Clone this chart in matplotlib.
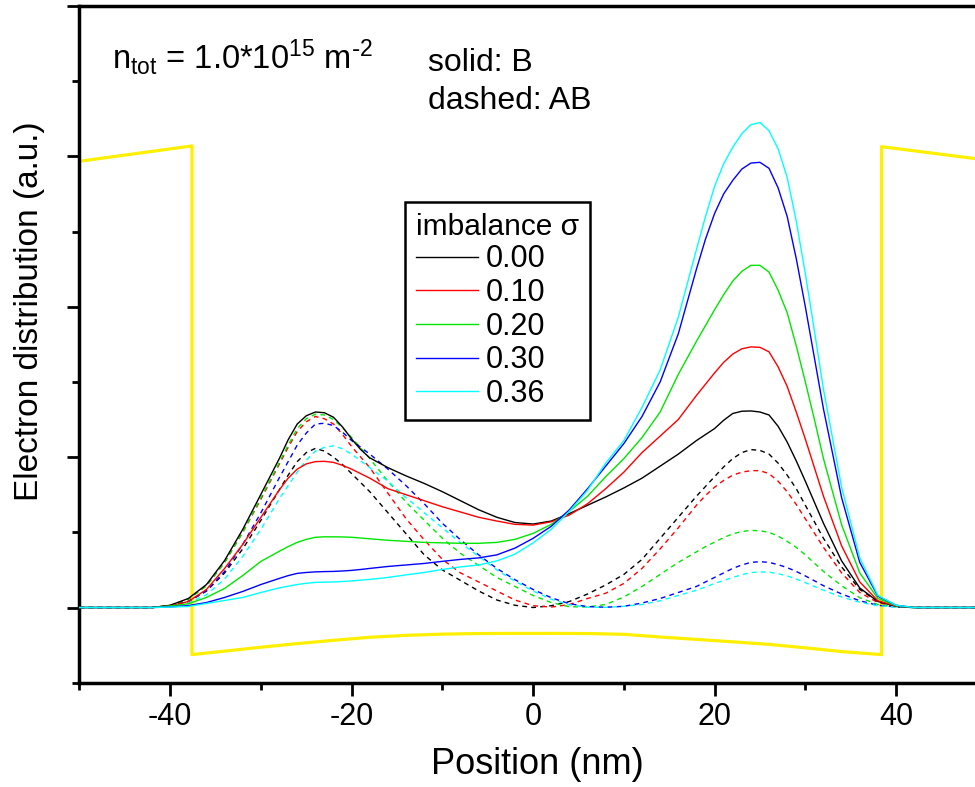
import matplotlib
matplotlib.use("Agg")
import matplotlib.pyplot as plt
from matplotlib.ticker import MultipleLocator

plt.rcParams['font.family'] = ['Liberation Sans', 'DejaVu Sans']
plt.rcParams['mathtext.default'] = 'regular'
plt.rcParams['axes.unicode_minus'] = False

# position grid (nm)
pos = [-50, -42, -40, -38, -36, -34, -32, -30, -28, -26, -24, -22, -20, -18, -16,
       -14, -12, -10, -8, -6, -4, -2, 0, 2, 4, 6, 8, 10, 12, 14, 16, 18, 20, 22,
       24, 26, 28, 30, 32, 34, 36, 38, 40, 42, 50]
# extra readings around the peaks
pos_fine = [-27, -25, -23, -21, -19, 19, 21, 23, 25, 27, 29, 31]

# solid: B state, one list per imbalance
b_000 = [0, 0, 0.015, 0.06, 0.153, 0.313, 0.52, 0.753, 0.987, 1.22, 1.30, 1.265, 1.12, 0.995, 0.93,
         0.875, 0.825, 0.77, 0.71, 0.65, 0.60, 0.565, 0.555, 0.575, 0.625, 0.68, 0.735, 0.795, 0.86, 0.94, 1.02, 1.11, 1.19, 1.29,
         1.307, 1.28, 1.10, 0.84, 0.56, 0.31, 0.13, 0.04, 0.008, 0, 0]
b_010 = [0, 0, 0.01, 0.04, 0.12, 0.26, 0.42, 0.60, 0.78, 0.92, 0.97, 0.965, 0.92, 0.86, 0.79,
         0.75, 0.71, 0.67, 0.635, 0.60, 0.575, 0.553, 0.548, 0.57, 0.615, 0.69, 0.79, 0.90, 1.03, 1.14, 1.25, 1.41, 1.56, 1.685,
         1.733, 1.70, 1.47, 1.12, 0.74, 0.41, 0.17, 0.045, 0.01, 0, 0]
b_020 = [0, 0, 0.01, 0.025, 0.067, 0.127, 0.213, 0.307, 0.373, 0.433, 0.467, 0.47, 0.467, 0.457, 0.447,
         0.44, 0.433, 0.43, 0.427, 0.427, 0.433, 0.453, 0.493, 0.553, 0.64, 0.74, 0.87, 0.99, 1.13, 1.30, 1.55, 1.77, 1.98, 2.17,
         2.275, 2.23, 1.96, 1.50, 0.99, 0.55, 0.23, 0.06, 0.012, 0, 0]
b_030 = [0, 0, 0.004, 0.013, 0.033, 0.067, 0.107, 0.153, 0.193, 0.227, 0.237, 0.24, 0.247, 0.26, 0.273,
         0.283, 0.293, 0.307, 0.32, 0.33, 0.35, 0.395, 0.46, 0.54, 0.65, 0.79, 0.94, 1.09, 1.27, 1.50, 1.82, 2.25, 2.62, 2.84,
         2.955, 2.92, 2.60, 2.00, 1.32, 0.73, 0.30, 0.075, 0.015, 0, 0]
b_036 = [0, 0, 0.003, 0.007, 0.027, 0.047, 0.067, 0.10, 0.13, 0.153, 0.167, 0.17, 0.177, 0.187, 0.20,
         0.217, 0.233, 0.253, 0.27, 0.283, 0.31, 0.355, 0.43, 0.52, 0.64, 0.78, 0.96, 1.11, 1.33, 1.58, 1.93, 2.38, 2.80, 3.06,
         3.21, 3.17, 2.86, 2.22, 1.45, 0.80, 0.33, 0.08, 0.015, 0, 0]

b_000_fine = [1.115, 1.275, 1.295, 1.20, 1.05, 1.15, 1.245, 1.305, 1.30, 1.205, 0.975, 0.70]
b_010_fine = [0.86, 0.955, 0.972, 0.945, 0.89, 1.485, 1.63, 1.72, 1.73, 1.60, 1.30, 0.93]
b_020_fine = [0.405, 0.453, 0.47, 0.469, 0.462, 1.875, 2.08, 2.235, 2.275, 2.11, 1.74, 1.25]
b_030_fine = [0.212, 0.233, 0.239, 0.243, 0.253, 2.45, 2.75, 2.915, 2.96, 2.79, 2.32, 1.66]
b_036_fine = [0.142, 0.161, 0.169, 0.173, 0.182, 2.60, 2.95, 3.15, 3.225, 3.05, 2.57, 1.84]

# dashed: AB state
ab_000 = [0, 0, 0.01, 0.04, 0.11, 0.23, 0.39, 0.58, 0.78, 0.97, 1.058, 1.0, 0.89, 0.77, 0.63,
          0.49, 0.35, 0.25, 0.18, 0.11, 0.05, 0.015, 0.0, 0.012, 0.04, 0.09, 0.15, 0.22, 0.32, 0.46, 0.60, 0.74, 0.87, 0.99,
          1.05, 1.02, 0.88, 0.68, 0.46, 0.27, 0.12, 0.04, 0.008, 0, 0]
ab_010 = [0, 0, 0.014, 0.055, 0.145, 0.30, 0.50, 0.72, 0.95, 1.17, 1.27, 1.22, 1.07, 0.93, 0.76,
          0.59, 0.45, 0.32, 0.23, 0.17, 0.11, 0.05, 0.012, 0.003, 0.02, 0.06, 0.095, 0.16, 0.26, 0.39, 0.53, 0.68, 0.80, 0.88,
          0.91, 0.89, 0.77, 0.59, 0.40, 0.23, 0.10, 0.033, 0.007, 0, 0]
ab_020 = [0, 0, 0.014, 0.055, 0.145, 0.30, 0.50, 0.73, 0.96, 1.19, 1.285, 1.25, 1.13, 0.99, 0.84,
          0.70, 0.58, 0.46, 0.36, 0.28, 0.20, 0.14, 0.08, 0.033, 0.005, 0.004, 0.02, 0.07, 0.14, 0.22, 0.30, 0.37, 0.435, 0.49,
          0.513, 0.50, 0.44, 0.35, 0.24, 0.145, 0.065, 0.02, 0.004, 0, 0]
ab_030 = [0, 0, 0.01, 0.04, 0.11, 0.24, 0.42, 0.63, 0.86, 1.08, 1.22, 1.21, 1.11, 1.02, 0.92,
          0.81, 0.69, 0.56, 0.45, 0.35, 0.26, 0.185, 0.12, 0.065, 0.025, 0.006, 0.002, 0.008, 0.03, 0.06, 0.10, 0.14, 0.20, 0.26,
          0.30, 0.30, 0.265, 0.21, 0.145, 0.09, 0.045, 0.015, 0.004, 0, 0]
ab_036 = [0, 0, 0.008, 0.03, 0.085, 0.19, 0.34, 0.52, 0.72, 0.90, 1.04, 1.075, 1.02, 0.93, 0.84,
          0.73, 0.63, 0.53, 0.43, 0.34, 0.25, 0.175, 0.11, 0.055, 0.018, 0.002, 0.001, 0.008, 0.02, 0.045, 0.08, 0.115, 0.16, 0.20,
          0.232, 0.235, 0.21, 0.165, 0.115, 0.07, 0.035, 0.012, 0.003, 0, 0]

ab_000_fine = [0.88, 1.03, 1.04, 0.95, 0.83, 0.805, 0.935, 1.03, 1.045, 0.96, 0.79, 0.57]
ab_010_fine = [1.065, 1.235, 1.255, 1.15, 1.0, 0.745, 0.845, 0.90, 0.91, 0.84, 0.685, 0.495]
ab_020_fine = [1.08, 1.255, 1.28, 1.195, 1.06, 0.405, 0.465, 0.505, 0.51, 0.475, 0.40, 0.295]
ab_030_fine = [0.97, 1.16, 1.225, 1.165, 1.065, 0.17, 0.23, 0.283, 0.305, 0.285, 0.24, 0.178]
ab_036_fine = [0.81, 0.98, 1.065, 1.055, 0.975, 0.137, 0.18, 0.218, 0.237, 0.225, 0.19, 0.14]

# confining potential (yellow)
pot_x = [-50, -37.6, -37.6, -34, -30, -26, -22, -18, -14, -10, -6, -2, 2, 6, 10, 14, 18, 22, 26, 30, 34, 38.4, 38.4, 50]
pot_y = [2.967, 3.069, -0.313, -0.29, -0.264, -0.24, -0.218, -0.198, -0.185, -0.177, -0.173, -0.172, -0.172, -0.173,
         -0.178, -0.196, -0.212, -0.228, -0.245, -0.268, -0.293, -0.313, 3.064, 2.975]

labels = ['0.00', '0.10', '0.20', '0.30', '0.36']
colors = ['#000000', '#ff0000', '#00e600', '#0000ff', '#00ffff']
solid = [(b_000, b_000_fine), (b_010, b_010_fine), (b_020, b_020_fine),
         (b_030, b_030_fine), (b_036, b_036_fine)]
dashed = [(ab_000, ab_000_fine), (ab_010, ab_010_fine), (ab_020, ab_020_fine),
          (ab_030, ab_030_fine), (ab_036, ab_036_fine)]


def merged(vals, fine):
    pts = sorted(zip(pos + pos_fine, vals + fine))
    return [p[0] for p in pts], [p[1] for p in pts]


fig = plt.figure(figsize=(9.75, 7.87), dpi=100)
ax = fig.add_axes([0.0815, 0.1325, 0.9185, 0.86])

ax.plot(pot_x, pot_y, color='#ffef00', lw=2.3, zorder=1)
for (vals, fine), c in zip(dashed, colors):
    x, y = merged(vals, fine)
    ax.plot(x, y, color=c, lw=1.0, ls=(0, (3.5, 3)), zorder=2)
for (vals, fine), c, lab in zip(solid, colors, labels):
    x, y = merged(vals, fine)
    ax.plot(x, y, color=c, lw=1.0, label=lab, zorder=3)

ax.set_xlim(-50, 48.7)
ax.set_ylim(-0.5, 4.0)
ax.xaxis.set_major_locator(MultipleLocator(20))
ax.xaxis.set_minor_locator(MultipleLocator(10))
ax.yaxis.set_major_locator(MultipleLocator(1))
ax.yaxis.set_minor_locator(MultipleLocator(0.5))
ax.tick_params(which='both', direction='out', width=2.0, top=False, right=False)
ax.tick_params(which='major', length=9)
ax.tick_params(which='minor', length=5)
ax.tick_params(axis='x', labelsize=22, pad=5)
ax.set_yticklabels([])
ax.spines['right'].set_visible(False)
for s in ['left', 'bottom', 'top']:
    ax.spines[s].set_linewidth(2.5)

fig.text(537 / 975, 1 - 765 / 787, 'Position (nm)', fontsize=26, ha='center', va='center')
fig.text(30 / 975, 1 - 311 / 787, 'Electron distribution (a.u.)', fontsize=24,
         ha='center', va='center', rotation=90)

ax.text(-46.4, 3.58, r'n$_{tot}$ = 1.0*10$^{15}$ m$^{\text{-}2}$', fontsize=23.5, va='baseline')
ax.text(-11.6, 3.567, 'solid: B', fontsize=23, va='baseline')
ax.text(-11.6, 3.313, 'dashed: AB', fontsize=23, va='baseline')

leg = ax.legend(title='imbalance σ', loc='upper left', bbox_to_anchor=(0.3635, 0.7104),
                borderaxespad=0, fontsize=22, title_fontsize=21.5, handlelength=2.03,
                handletextpad=0.26, labelspacing=0.12, borderpad=0.35, fancybox=False,
                framealpha=1, edgecolor='black')
leg.get_frame().set_linewidth(1.8)
leg._legend_box.align = 'left'

fig.savefig('out.png', dpi=100)
